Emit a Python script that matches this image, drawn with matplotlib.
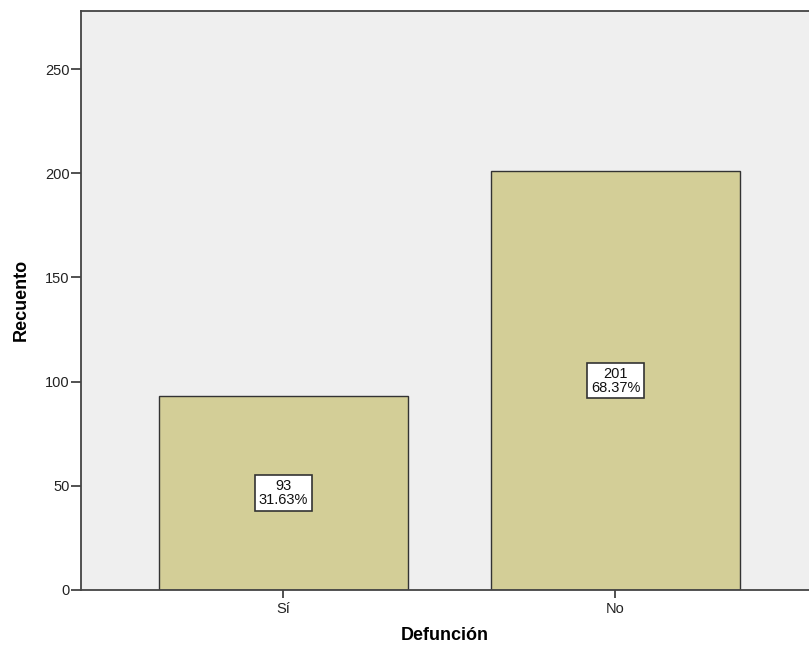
import matplotlib.pyplot as plt

plt.rcParams['font.family'] = ['Liberation Sans', 'DejaVu Sans']

# Data
categories = ['Sí', 'No']
counts = [93, 201]
percents = ['31.63%', '68.37%']

fig = plt.figure(figsize=(8.09, 6.53), dpi=100)
ax = fig.add_axes([0.1001, 0.0965, 0.8999, 0.8870])
ax.set_facecolor('#efefef')

x = list(range(len(categories)))
ax.bar(x, counts, width=0.75, color='#d3ce97', edgecolor='#333333', linewidth=1.0, zorder=2)

# Count / percent boxes at mid-height of each bar
for xi, c, p in zip(x, counts, percents):
    ax.text(xi, c / 2, f'{c}\n{p}', ha='center', va='center', fontsize=10.5,
            linespacing=1.0, color='#111111', zorder=3,
            bbox=dict(boxstyle='square,pad=0.25', facecolor='white',
                      edgecolor='#333333', linewidth=1.2))

ax.set_xlim(-0.61, 1.583)
ax.set_ylim(0, 278)
ax.set_xticks(x)
ax.set_xticklabels(categories)
ax.set_yticks([0, 50, 100, 150, 200, 250])

ax.tick_params(axis='both', labelsize=10.5, width=1.2, color='#333333', labelcolor='#222222')
ax.tick_params(axis='y', length=7, pad=1)
ax.tick_params(axis='x', length=6, pad=2.5)

for side in ['left', 'bottom', 'top']:
    ax.spines[side].set_color('#444444')
    ax.spines[side].set_linewidth(1.3)
ax.spines['right'].set_visible(False)

ax.set_ylabel('Recuento', fontsize=13, fontweight='bold', labelpad=11)
ax.set_xlabel('Defunción', fontsize=13, fontweight='bold', labelpad=8)

fig.savefig('out.png', dpi=100)
